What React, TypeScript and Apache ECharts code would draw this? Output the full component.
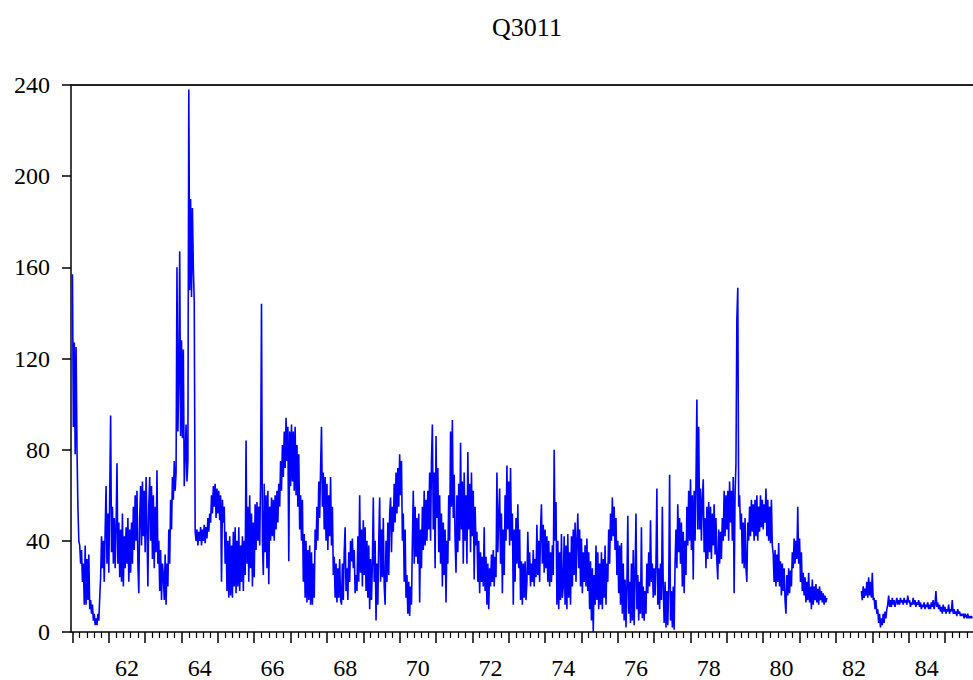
import React, { useEffect, useRef } from "react";
import * as echarts from "echarts";

const TITLE = "Q3011";
const X_LABELS = [62, 64, 66, 68, 70, 72, 74, 76, 78, 80, 82, 84];
const Y_LABELS = [0, 40, 80, 120, 160, 200, 240];
const STEP = 0.025;

// values, one array per year (step 0.025 year)
const y60 = [157, 90, 127, 78, 125, 80, 55, 40, 38, 30, 36, 22, 30, 12, 38, 12, 32, 14, 34, 10];
const y61 = [14, 8, 12, 5, 8, 3, 6, 3, 8, 5, 15, 24, 42, 28, 40, 22, 45, 64, 30, 52, 26, 60, 95, 35, 55, 30, 50, 28, 46, 74, 30, 48, 24, 45, 22, 52, 20, 42, 28, 46];
const y62 = [30, 50, 22, 45, 26, 48, 30, 55, 36, 60, 40, 62, 30, 17, 50, 64, 38, 66, 42, 62, 35, 68, 45, 20, 55, 68, 40, 64, 32, 60, 28, 55, 35, 71, 30, 40, 18, 36, 14, 30];
const y63 = [25, 14, 34, 12, 30, 20, 45, 30, 58, 45, 68, 58, 75, 62, 70, 160, 88, 110, 167, 86, 128, 85, 124, 64, 77, 91, 66, 75, 238, 150, 190, 147, 186, 160, 145, 44, 40, 45, 38, 44];
const y64 = [40, 46, 38, 45, 40, 47, 39, 46, 41, 50, 44, 52, 48, 60, 52, 64, 55, 65, 50, 63, 52, 62, 49, 60, 22, 58, 48, 55, 30, 44, 18, 40, 15, 42, 16, 38, 15, 44, 20, 46];
const y65 = [17, 40, 20, 46, 18, 38, 22, 42, 18, 40, 25, 84, 30, 55, 22, 60, 28, 52, 20, 48, 24, 56, 36, 57, 40, 55, 38, 66, 144, 40, 25, 65, 35, 60, 28, 62, 21, 55, 40, 59];
const y66 = [42, 58, 40, 60, 45, 62, 48, 65, 55, 75, 62, 82, 68, 88, 72, 94, 75, 90, 31, 88, 64, 91, 66, 88, 62, 90, 60, 82, 55, 78, 45, 60, 40, 58, 22, 43, 15, 40, 13, 36];
const y67 = [14, 38, 12, 35, 12, 30, 15, 45, 36, 55, 40, 66, 50, 72, 90, 55, 70, 45, 68, 40, 65, 36, 60, 42, 68, 38, 55, 25, 33, 15, 30, 13, 28, 15, 32, 14, 12, 30, 14, 35];
const y68 = [46, 18, 28, 14, 35, 22, 40, 31, 41, 28, 36, 17, 25, 18, 42, 22, 60, 26, 45, 20, 49, 25, 46, 18, 40, 15, 38, 10, 32, 14, 30, 59, 22, 40, 5, 30, 12, 40, 59, 22];
const y69 = [45, 24, 50, 20, 12, 40, 22, 48, 25, 52, 59, 35, 55, 44, 65, 48, 70, 52, 72, 55, 78, 60, 75, 40, 52, 22, 45, 15, 25, 8, 22, 7, 20, 12, 40, 62, 30, 55, 33, 50];
const y70 = [30, 52, 13, 45, 28, 55, 36, 62, 38, 58, 40, 62, 45, 70, 40, 75, 91, 45, 70, 28, 86, 50, 72, 35, 60, 30, 52, 20, 48, 25, 45, 13, 40, 30, 60, 40, 88, 55, 93, 50];
const y71 = [69, 40, 26, 60, 35, 65, 40, 83, 45, 66, 30, 70, 40, 60, 30, 79, 45, 65, 35, 70, 42, 62, 23, 55, 38, 44, 22, 40, 17, 35, 22, 33, 20, 46, 18, 33, 12, 30, 10, 28];
const y72 = [20, 34, 22, 36, 20, 33, 24, 70, 35, 50, 63, 30, 52, 17, 45, 25, 60, 40, 73, 45, 66, 38, 72, 40, 52, 12, 45, 22, 50, 30, 56, 28, 45, 14, 31, 12, 30, 15, 31, 14];
const y73 = [22, 44, 25, 35, 20, 30, 22, 36, 20, 32, 24, 47, 25, 40, 22, 45, 56, 30, 47, 26, 45, 28, 42, 22, 40, 20, 35, 22, 38, 25, 80, 40, 57, 12, 40, 10, 35, 14, 43, 15];
const y74 = [20, 42, 12, 38, 10, 43, 15, 35, 12, 42, 20, 45, 25, 48, 22, 40, 52, 28, 45, 20, 41, 17, 35, 22, 38, 20, 41, 18, 35, 10, 31, 5, 28, 0, 25, 12, 38, 14, 35, 10];
const y75 = [30, 12, 35, 10, 32, 15, 38, 12, 30, 22, 45, 30, 52, 40, 59, 42, 55, 36, 50, 25, 40, 17, 38, 12, 39, 8, 30, 5, 23, 2, 20, 51, 8, 22, 4, 30, 5, 36, 3, 25];
const y76 = [52, 10, 25, 5, 22, 8, 46, 6, 20, 5, 18, 8, 30, 17, 35, 20, 49, 22, 30, 15, 28, 16, 30, 63, 12, 28, 10, 30, 14, 55, 20, 4, 22, 2, 18, 3, 20, 69, 5, 18];
const y77 = [2, 20, 1, 30, 45, 28, 56, 35, 50, 30, 48, 20, 44, 17, 40, 25, 55, 38, 62, 40, 67, 36, 60, 23, 62, 40, 65, 102, 45, 90, 45, 63, 40, 58, 67, 35, 50, 28, 55, 32];
const y78 = [57, 35, 55, 32, 52, 38, 56, 34, 50, 31, 23, 45, 30, 44, 32, 50, 40, 62, 42, 60, 45, 62, 40, 66, 48, 62, 40, 68, 17, 60, 74, 137, 151, 55, 60, 45, 52, 30, 48, 28];
const y79 = [50, 28, 22, 48, 40, 55, 42, 58, 44, 56, 40, 58, 42, 60, 40, 55, 44, 60, 46, 58, 45, 56, 48, 63, 42, 58, 40, 55, 39, 58, 38, 34, 22, 36, 20, 34, 22, 39, 20, 31];
const y80 = [16, 30, 18, 28, 14, 8, 25, 16, 28, 17, 27, 20, 35, 28, 41, 30, 40, 32, 55, 30, 41, 22, 35, 18, 26, 16, 24, 13, 22, 14, 26, 13, 20, 10, 23, 12, 20, 14, 21, 13];
const y81 = [19, 12, 20, 14, 18, 13, 17, 12, 16, 13, 15, null, null, null, null, null, null, null, null, null, null, null, null, null, null, null, null, null, null, null, null, null, null, null, null, null, null, null, null, null];
const y82 = [null, null, null, null, null, null, null, null, 18, 14, 20, 15, 19, 16, 22, 15, 24, 16, 22, 15, 26, 14, 15, 10, 14, 8, 10, 4, 8, 2, 6, 3, 8, 4, 9, 6, 10, 12, 16, 11];
const y83 = [14, 11, 15, 12, 14, 11, 13, 15, 12, 14, 12, 15, 13, 14, 12, 15, 13, 14, 12, 16, 13, 14, 11, 13, 12, 15, 12, 14, 11, 13, 12, 14, 11, 13, 10, 12, 11, 13, 10, 12];
const y84 = [11, 13, 10, 12, 10, 13, 11, 14, 10, 12, 18, 11, 13, 10, 12, 9, 11, 8, 12, 9, 11, 8, 10, 9, 12, 8, 10, 9, 14, 8, 10, 8, 9, 7, 10, 8, 9, 7, 8, 7];
const y85 = [8, 6, 8, 7, 6, 8, 6, 7, 6, 7, 6];

const SEGMENTS: [number, (number | null)[]][] = [
  [60.5, y60], [61, y61], [62, y62], [63, y63], [64, y64], [65, y65], [66, y66],
  [67, y67], [68, y68], [69, y69], [70, y70], [71, y71], [72, y72], [73, y73],
  [74, y74], [75, y75], [76, y76], [77, y77], [78, y78], [79, y79], [80, y80],
  [81, y81], [82, y82], [83, y83], [84, y84], [85, y85],
];

const X_MIN = 60.46;
const X_MAX = 85.27;

export default function App() {
  const ref = useRef<HTMLDivElement>(null);
  useEffect(() => {
    document.body.style.margin = "0";
    if (!ref.current) return;
    const chart = echarts.init(ref.current, null, { renderer: "svg" });
    const data = SEGMENTS.flatMap(([start, vals]) =>
      vals.map((v, j) => [Number((start + j * STEP).toFixed(3)), v === null ? "-" : v])
    );
    const majorTicks: number[] = [];
    const minorTicks: number[] = [];
    for (let k = 0; k <= 25; k++) {
      const base = 60.5 + k;
      majorTicks.push(base);
      for (let m = 1; m < 5; m++) minorTicks.push(Number((base + m * 0.2).toFixed(2)));
    }
    const font = "'Liberation Serif', 'DejaVu Serif', serif";
    chart.setOption({
      animation: false,
      backgroundColor: "#ffffff",
      graphic: [
        {
          type: "text",
          x: 527,
          y: 27,
          style: {
            text: TITLE,
            fill: "#000",
            font: `26px ${font}`,
            textAlign: "center",
            textVerticalAlign: "middle",
          },
        },
      ],
      grid: {
        left: 71,
        right: 0,
        top: 85,
        bottom: 47,
        show: false,
      },
      xAxis: [
        {
          type: "value",
          min: X_MIN,
          max: X_MAX,
          position: "bottom",
          splitLine: { show: false },
          axisLine: { show: true, onZero: false, lineStyle: { color: "#000", width: 1.5 } },
          axisTick: {
            show: true,
            inside: false,
            length: 11,
            customValues: majorTicks,
            lineStyle: { color: "#000", width: 1.5 },
          },
          axisLabel: {
            show: true,
            customValues: X_LABELS,
            margin: 24,
            color: "#000",
            fontSize: 24,
            fontFamily: font,
          },
        },
        {
          type: "value",
          min: X_MIN,
          max: X_MAX,
          position: "bottom",
          splitLine: { show: false },
          axisLine: { show: false, onZero: false },
          axisTick: {
            show: true,
            inside: false,
            length: 6,
            customValues: minorTicks,
            lineStyle: { color: "#000", width: 1.2 },
          },
          axisLabel: { show: false },
        },
        {
          type: "value",
          min: X_MIN,
          max: X_MAX,
          position: "top",
          splitLine: { show: false },
          axisLine: { show: true, onZero: false, lineStyle: { color: "#222", width: 1.8 } },
          axisTick: { show: false },
          axisLabel: { show: false },
        },
      ],
      yAxis: {
        type: "value",
        min: 0,
        max: 240,
        interval: 40,
        splitLine: { show: false },
        axisLine: { show: true, lineStyle: { color: "#000", width: 1.5 } },
        axisTick: { show: true, length: 9, lineStyle: { color: "#000", width: 1.5 } },
        axisLabel: {
          margin: 21,
          color: "#000",
          fontSize: 24,
          fontFamily: font,
          customValues: Y_LABELS,
        },
      },
      series: [
        {
          type: "line",
          xAxisIndex: 0,
          data,
          showSymbol: false,
          connectNulls: false,
          lineStyle: { color: "#0000ff", width: 1.6 },
          itemStyle: { color: "#0000ff" },
        },
      ],
    });
    return () => chart.dispose();
  }, []);
  return <div ref={ref} style={{ width: 973, height: 680 }} />;
}
